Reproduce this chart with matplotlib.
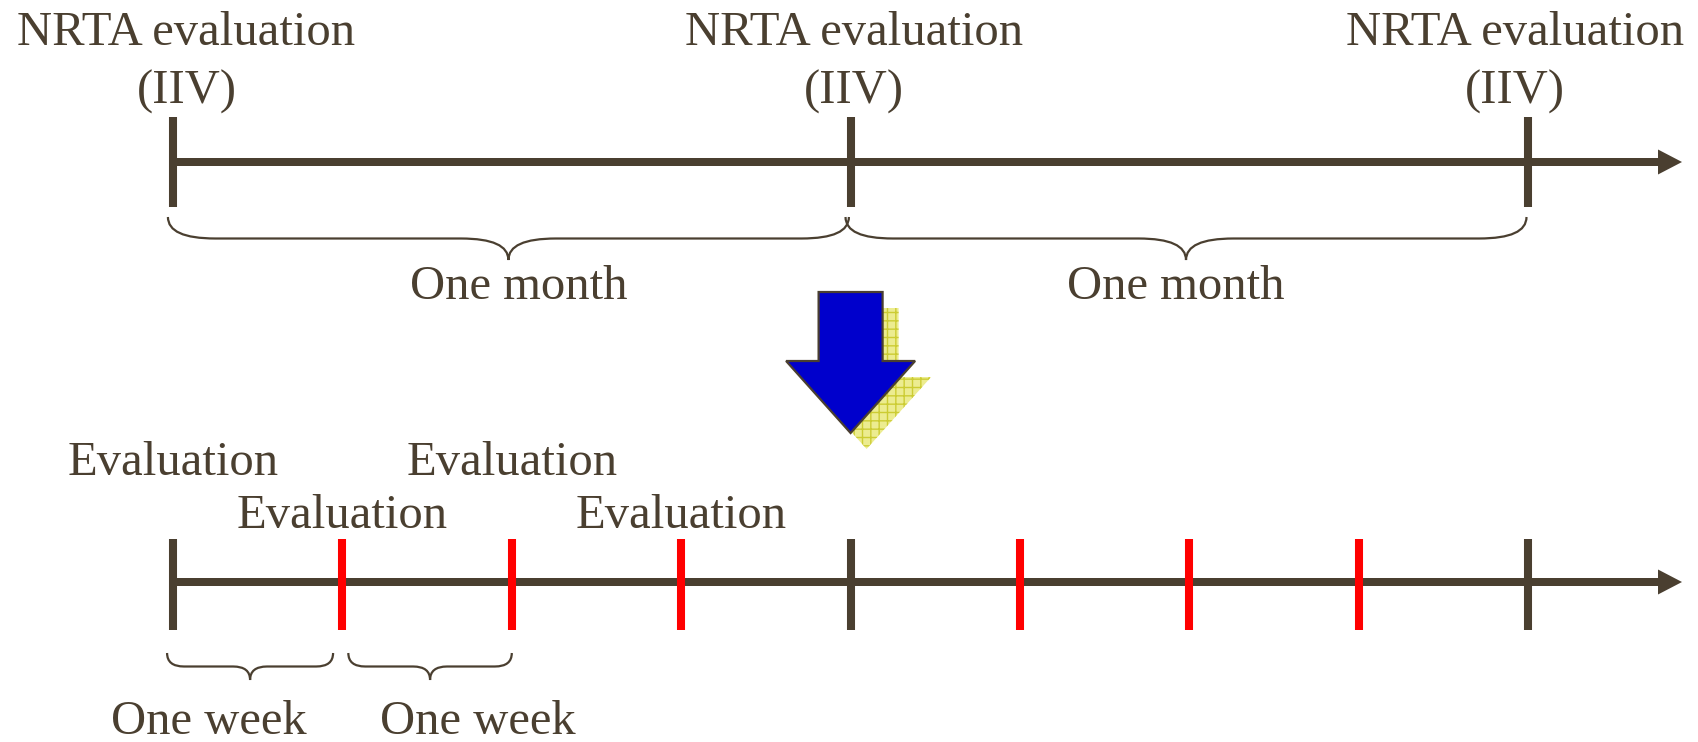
import numpy as np
import matplotlib.pyplot as plt
from matplotlib.path import Path
from matplotlib.patches import PathPatch

# time axis in weeks (one month = 4 weeks)
nrta_weeks = [0, 4, 8]
week_ticks = [0, 1, 2, 3, 4, 5, 6, 7, 8]
nrta_label_x = [0.08, 4.02, 7.92]
month_spans = [(0, 4), (4, 8)]
month_label_x = [2.04, 5.92]
week_spans = [(0, 1), (1, 2)]
week_label_x = [0.21, 1.80]
eval_weeks = [0, 1, 2, 3]

DARK = '#4a3f30'
RED = '#ff0000'
WEEK_PX = 169.4
X0_PX = 173
FS = 35

plt.rcParams['font.family'] = ['Liberation Serif', 'DejaVu Serif']

fig = plt.figure(figsize=(16.99, 7.42), dpi=100)
ax = fig.add_axes([0, 0, 1, 1])
ax.set_xlim(-X0_PX / WEEK_PX, (1699 - X0_PX) / WEEK_PX)
ax.set_ylim(742, 0)
ax.axis('off')


def brace(x0, x1, y_top, y_tip, w):
    xm = (x0 + x1) / 2
    ym = y_top + 0.5 * (y_tip - y_top)
    verts = [(x0, y_top), (x0, ym), (x0 + w, ym), (xm - w, ym), (xm, ym), (xm, y_tip),
             (xm, ym), (xm + w, ym), (x1 - w, ym), (x1, ym), (x1, y_top)]
    codes = [Path.MOVETO, Path.CURVE3, Path.CURVE3, Path.LINETO, Path.CURVE3, Path.CURVE3,
             Path.CURVE3, Path.CURVE3, Path.LINETO, Path.CURVE3, Path.CURVE3]
    ax.add_patch(PathPatch(Path(verts, codes), fill=False, ec=DARK, lw=1.6))


def timeline(y, tick_weeks, tick_top, tick_bot):
    end = 8.908
    ax.arrow(0, y, end, 0, width=8, head_width=25, head_length=24 / WEEK_PX,
             length_includes_head=True, color=DARK, lw=0, zorder=2)
    for w in tick_weeks:
        c = DARK if w in nrta_weeks else RED
        ax.vlines(w, tick_top, tick_bot, colors=c, lw=5.8, zorder=3)


# top: monthly NRTA evaluation
timeline(162, nrta_weeks, 117, 207)
for x in nrta_label_x:
    ax.text(x, 45, 'NRTA evaluation', fontsize=FS, color=DARK, ha='center', va='baseline')
    ax.text(x, 104, '(IIV)', fontsize=FS, color=DARK, ha='center', va='baseline')
for (a, b), lx in zip(month_spans, month_label_x):
    brace(a - 0.03, b - 0.01, 217, 260, 0.28)
    ax.text(lx, 299, 'One month', fontsize=FS, color=DARK, ha='center', va='baseline')

# big arrow with hatched shadow
shaft_w = 64 / WEEK_PX
head_w = 129 / WEEK_PX
off = 16 / WEEK_PX
ax.arrow(4 + off, 292 + 16, 0, 141, width=shaft_w, head_width=head_w, head_length=72,
         length_includes_head=True, fc='#ecec90', ec='#cccc33', lw=0, hatch='++', zorder=4)
ax.arrow(4, 292, 0, 141, width=shaft_w, head_width=head_w, head_length=72,
         length_includes_head=True, fc='#0000cc', ec=DARK, lw=1.6, zorder=5)

# bottom: weekly evaluation
timeline(582, week_ticks, 539, 630)
for i, w in enumerate(eval_weeks):
    yb = 475 if i % 2 == 0 else 528
    ax.text(w, yb, 'Evaluation', fontsize=FS, color=DARK, ha='center', va='baseline')
for (a, b), lx in zip(week_spans, week_label_x):
    brace(a - 0.035 + (0.07 if a > 0 else 0), b - 0.055 + (0.055 if a > 0 else 0), 653, 680, 0.1)
    ax.text(lx, 734, 'One week', fontsize=FS, color=DARK, ha='center', va='baseline')

fig.savefig('out.png', dpi=100)
